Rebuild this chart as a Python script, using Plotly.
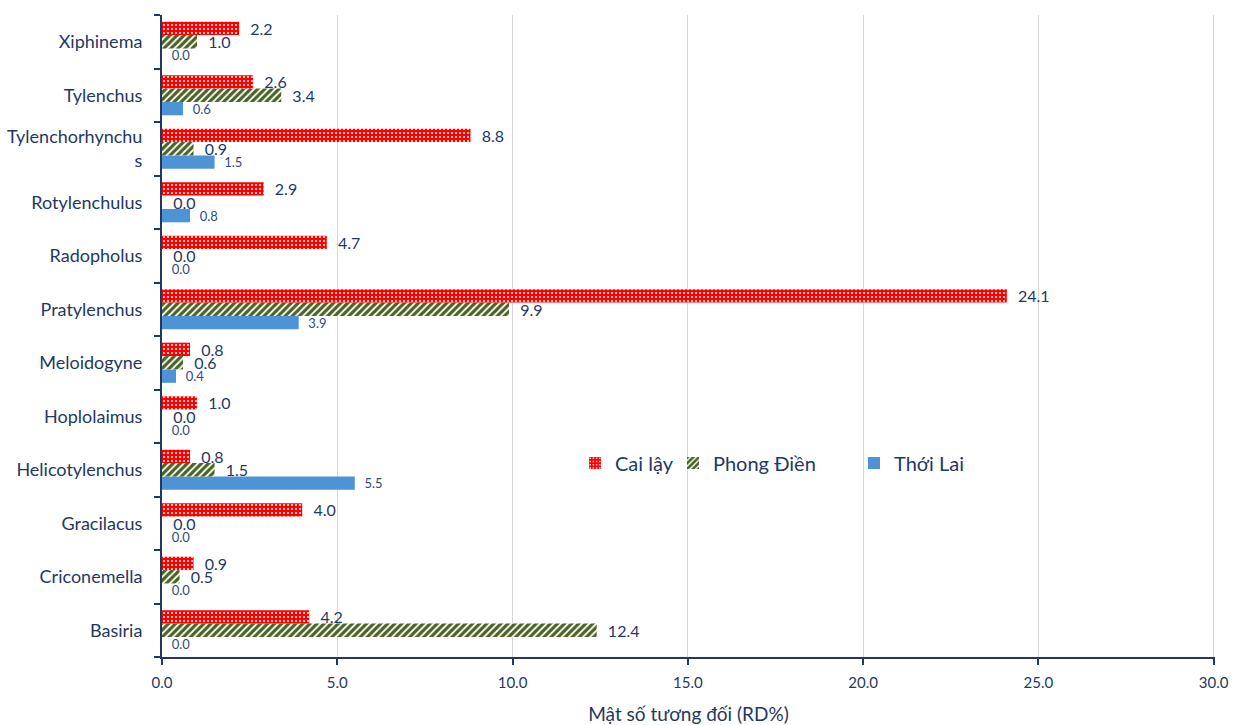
import plotly.graph_objects as go

# Nematode genera, listed bottom to top on the category axis
genera = [
    "Basiria", "Criconemella", "Gracilacus", "Helicotylenchus", "Hoplolaimus",
    "Meloidogyne", "Pratylenchus", "Radopholus", "Rotylenchulus",
    "Tylenchorhynchu<br>s", "Tylenchus", "Xiphinema",
]

# Relative density (RD%) per site
cai_lay = [4.2, 0.9, 4.0, 0.8, 1.0, 0.8, 24.1, 4.7, 2.9, 8.8, 2.6, 2.2]
phong_dien = [12.4, 0.5, 0.0, 1.5, 0.0, 0.6, 9.9, 0.0, 0.0, 0.9, 3.4, 1.0]
thoi_lai = [0.0, 0.0, 0.0, 5.5, 0.0, 0.4, 3.9, 0.0, 0.8, 1.5, 0.6, 0.0]

x_ticks = [0, 5, 10, 15, 20, 25, 30]

NAVY = "#1f3864"
FONT = "Lato"
PAD = "\u00a0\u00a0"

fig = go.Figure()

# Horizontal grouped bars: first trace sits lowest in each group
fig.add_trace(go.Bar(
    name="Thới Lai", y=genera, x=thoi_lai, orientation="h",
    marker=dict(color="#4e93d6", line=dict(width=0)),
    texttemplate=PAD + "%{x:.1f}", textposition="outside", constraintext="none",
    textfont=dict(family=FONT, size=13, color="#2e4a86"),
    cliponaxis=False, legend="legend3",
))
fig.add_trace(go.Bar(
    name="Phong Điền", y=genera, x=phong_dien, orientation="h",
    marker=dict(
        color="white", line=dict(width=0),
        pattern=dict(shape="/", fgcolor="#4a6324", bgcolor="white",
                     fgopacity=1, size=5, solidity=0.65, fillmode="overlay"),
    ),
    texttemplate=PAD + "%{x:.1f}", textposition="outside", constraintext="none",
    textfont=dict(family=FONT, size=16, color=NAVY),
    cliponaxis=False, legend="legend2",
))
fig.add_trace(go.Bar(
    name="Cai lậy", y=genera, x=cai_lay, orientation="h",
    marker=dict(
        color="#ff0000", line=dict(width=0),
        pattern=dict(shape=".", fgcolor="white", bgcolor="#ff0000",
                     fgopacity=1, size=4, solidity=0.2, fillmode="overlay"),
    ),
    texttemplate=PAD + "%{x:.1f}", textposition="outside", constraintext="none",
    textfont=dict(family=FONT, size=16, color=NAVY),
    cliponaxis=False, legend="legend",
))

L, R, T, B = 162, 18, 15, 68
plot_w = 1233 - L - R


def legend_at(px):
    return dict(
        x=(px - L) / plot_w, y=0.302, xanchor="left", yanchor="middle",
        orientation="h", font=dict(family=FONT, size=20, color=NAVY),
        bgcolor="rgba(0,0,0,0)", itemwidth=30,
    )


fig.update_layout(
    width=1233, height=725,
    margin=dict(l=L, r=R, t=T, b=B),
    paper_bgcolor="white", plot_bgcolor="white",
    barmode="group", bargap=0.25, bargroupgap=0,
    font=dict(family=FONT, color=NAVY),
    legend=legend_at(575),
    legend2=legend_at(673),
    legend3=legend_at(854),
    showlegend=True,
)

fig.update_xaxes(
    range=[0, 30.04], tickvals=x_ticks, tickformat=".1f",
    showgrid=True, gridcolor="#d9d9d9", gridwidth=1,
    showline=True, linecolor=NAVY, linewidth=2,
    ticks="outside", ticklen=6, tickcolor=NAVY, tickwidth=2,
    tickfont=dict(family=FONT, size=15, color=NAVY),
    ticklabelstandoff=5, automargin=False,
    title=dict(text="Mật số tương đối (RD%)", standoff=20,
               font=dict(family=FONT, size=19, color=NAVY)),
    zeroline=False,
)
fig.update_yaxes(
    type="category", categoryorder="array", categoryarray=genera,
    showline=True, linecolor=NAVY, linewidth=2,
    ticks="outside", tickson="boundaries", ticklen=6, tickcolor=NAVY, tickwidth=2,
    tickfont=dict(family=FONT, size=18, color=NAVY),
    ticklabelstandoff=14, showgrid=False, automargin=False,
)

fig.write_html("out.html")
